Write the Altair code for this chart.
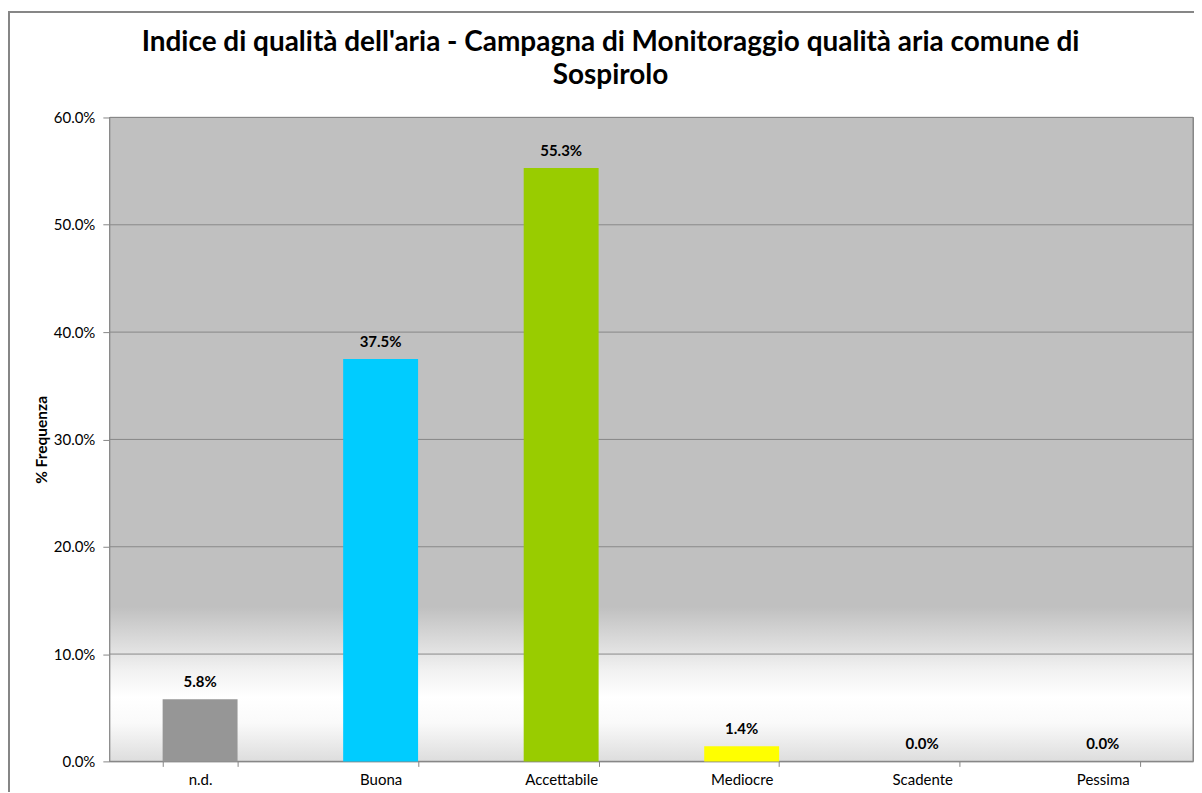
import altair as alt
import pandas as pd

categories = ["n.d.", "Buona", "Accettabile", "Mediocre", "Scadente", "Pessima"]
values = [0.058, 0.375, 0.553, 0.014, 0.0, 0.0]
bar_colors = ["#969696", "#00CCFF", "#99CC00", "#FFFF00", "#FF9900", "#FF0000"]
y_ticks = [0.0, 0.1, 0.2, 0.3, 0.4, 0.5, 0.6]

df = pd.DataFrame({"cat": categories, "val": values, "col": bar_colors})
df_grid = pd.DataFrame({"val": y_ticks})

W, H = 1085, 645
FONT = "Lato"

y_scale = alt.Scale(domain=[0, 0.6], nice=False)
y_axis = alt.Axis(values=y_ticks, format=".1%", tickSize=7, labelPadding=8,
                  labelFontSize=15, labelFont=FONT, labelColor="#000000",
                  domainColor="#868686", tickColor="#868686", grid=False,
                  titleFontSize=15.5, titleFont=FONT, titleFontWeight="bold",
                  titleColor="#000000", titlePadding=4)

x_enc = alt.X(
    "cat:N", sort=categories, title=None,
    scale=alt.Scale(paddingInner=0.585, paddingOuter=0.2925),
    axis=alt.Axis(labelAngle=0, tickBand="extent", tickSize=5, labelPadding=6,
                  labelFontSize=15, labelFont=FONT, labelColor="#000000",
                  domainColor="#868686", tickColor="#868686", grid=False),
)

# outer chart border (right/bottom edges fall outside the visible area)
frame = alt.Chart(df).mark_rect(fill=None, stroke="#868686", strokeWidth=1.5).encode(
    x=alt.value(-101), x2=alt.value(W + 40), y=alt.value(-106), y2=alt.value(H + 60)
)

bg = alt.Chart(df).mark_rect(
    color=alt.Gradient(
        gradient="linear", x1=0, x2=0, y1=0, y2=1,
        stops=[
            alt.GradientStop(color="#C0C0C0", offset=0),
            alt.GradientStop(color="#C0C0C0", offset=0.76),
            alt.GradientStop(color="#F2F2F2", offset=0.86),
            alt.GradientStop(color="#FFFFFF", offset=0.9),
            alt.GradientStop(color="#FAFAFA", offset=0.94),
            alt.GradientStop(color="#DDDDDD", offset=1),
        ],
    ),
    stroke="#868686", strokeWidth=1,
).encode(x=alt.value(0), x2=alt.value(W), y=alt.value(0), y2=alt.value(H))

grid = alt.Chart(df_grid).mark_rule(color="#888888").encode(
    y=alt.Y("val:Q", scale=y_scale, axis=y_axis, title="% Frequenza"),
    x=alt.value(0), x2=alt.value(W),
)

bars = alt.Chart(df).mark_bar().encode(
    x=x_enc,
    y=alt.Y("val:Q", scale=y_scale, axis=y_axis, title="% Frequenza"),
    color=alt.Color("col:N", scale=None),
)

labels = alt.Chart(df).mark_text(
    baseline="bottom", dy=-9, fontSize=15, fontWeight="bold", font=FONT, color="#000000"
).encode(
    x=alt.X("cat:N", sort=categories),
    y=alt.Y("val:Q", scale=y_scale, axis=y_axis, title="% Frequenza"),
    text=alt.Text("val:Q", format=".1%"),
)

chart = alt.layer(frame, bg, grid, bars, labels).properties(
    width=W, height=H,
    title=alt.TitleParams(
        text=["Indice di qualità dell'aria - Campagna di Monitoraggio qualità aria comune di",
              "Sospirolo"],
        fontSize=28, font=FONT, fontWeight="bold", color="#000000",
        anchor="middle", dx=-41, offset=-79, lineHeight=33,
    ),
    autosize=alt.AutoSizeParams(type="none"),
    padding={"left": 102, "top": 109, "right": 1, "bottom": 30},
    background="#FFFFFF",
).configure_view(stroke=None)

chart.save("out.html", embed_options={"renderer": "svg", "actions": False})
